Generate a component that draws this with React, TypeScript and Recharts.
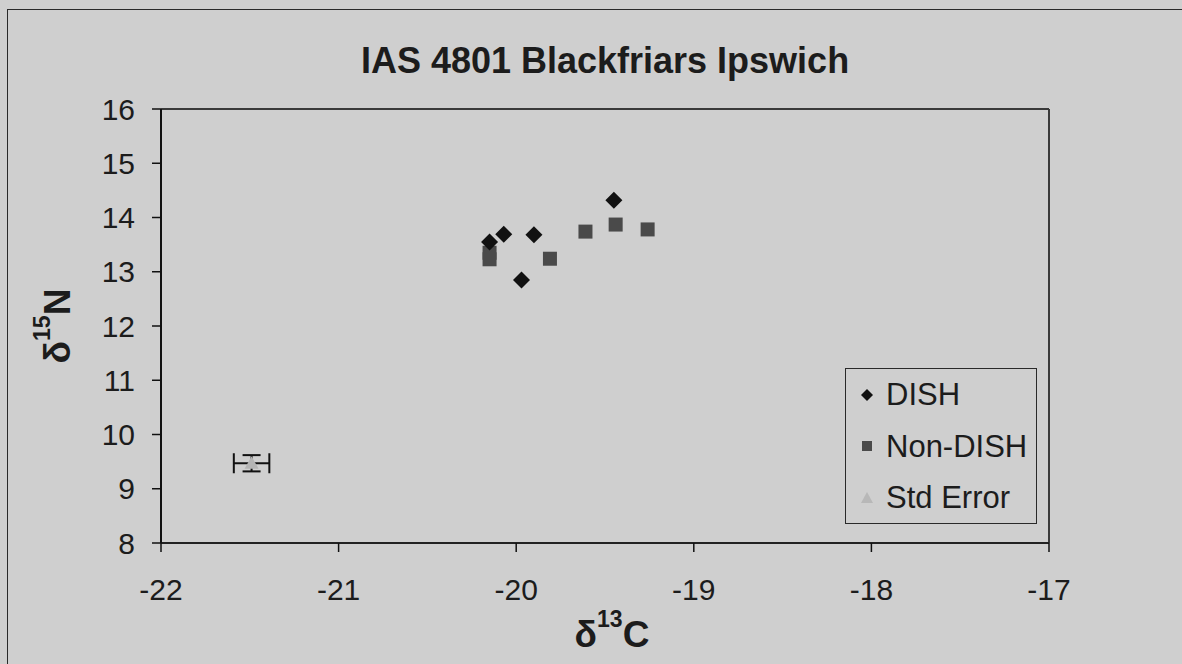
import React from 'react';
import { ScatterChart, Scatter, XAxis, YAxis, ErrorBar, ReferenceLine, Legend } from 'recharts';

// values
const dishX = [-20.15, -20.07, -19.9, -19.97, -19.45];
const dishY = [13.55, 13.69, 13.68, 12.85, 14.32];
const nonDishX = [-20.15, -20.15, -19.81, -19.61, -19.44, -19.26];
const nonDishY = [13.35, 13.23, 13.24, 13.74, 13.87, 13.78];
const stdErrX = [-21.49];
const stdErrY = [9.47];
const stdErrEx = [0.1];
const stdErrEy = [0.15];

const xTicks = [-22, -21, -20, -19, -18, -17];
const yTicks = [8, 9, 10, 11, 12, 13, 14, 15, 16];
const seriesNames = ['DISH', 'Non-DISH', 'Std Error'];

const FONT = '"Liberation Sans", Arial, sans-serif';
const BG = '#cfcfcf';
const INK = '#1c1c1c';

const dish = dishX.map((x, i) => ({ x, y: dishY[i] }));
const nonDish = nonDishX.map((x, i) => ({ x, y: nonDishY[i] }));
const stdErr = stdErrX.map((x, i) => ({ x, y: stdErrY[i], ex: stdErrEx[i], ey: stdErrEy[i] }));

const Diamond = (props: any) => {
  const { cx, cy } = props;
  const r = 8.5;
  return <path d={`M${cx},${cy - r}L${cx + r},${cy}L${cx},${cy + r}L${cx - r},${cy}Z`} fill="#111" />;
};

const Square = (props: any) => {
  const { cx, cy } = props;
  return <rect x={cx - 7} y={cy - 7} width={14} height={14} fill="#4a4a4a" />;
};

const Triangle = (props: any) => {
  const { cx, cy } = props;
  const r = 7;
  return <path d={`M${cx},${cy - r}L${cx + r},${cy + r * 0.8}L${cx - r},${cy + r * 0.8}Z`} fill="#b4b4b4" />;
};

const iconFor = (name: string) => {
  if (name === 'DISH') return <path d="M7,1L13,7L7,13L1,7Z" fill="#111" />;
  if (name === 'Non-DISH') return <rect x={2} y={2} width={10} height={10} fill="#4a4a4a" />;
  return <path d="M7,1L13,12L1,12Z" fill="#b8b8b8" />;
};

const LegendBox = () => (
  <div
    style={{
      boxSizing: 'border-box',
      width: 192,
      height: 156,
      border: '1.5px solid #2a2a2a',
      background: BG,
      fontFamily: FONT,
      fontSize: 31,
      color: INK,
    }}
  >
    {seriesNames.map((n) => (
      <div key={n} style={{ display: 'flex', alignItems: 'center', height: 51.5, lineHeight: '51.5px' }}>
        <svg width={14} height={14} style={{ marginLeft: 14, marginRight: 12 }}>
          {iconFor(n)}
        </svg>
        <span>{n}</span>
      </div>
    ))}
  </div>
);

const XTitle = (props: any) => {
  const { x, y, width } = props.viewBox;
  return (
    <text x={x + width / 2 + 7} y={y + 104} textAnchor="middle" fontFamily={FONT} fontWeight="bold" fontSize={37} fill={INK}>
      <tspan>δ</tspan>
      <tspan dy={-20} fontSize={23}>13</tspan>
      <tspan dy={20}>C</tspan>
    </text>
  );
};

const YTitle = (props: any) => {
  const { y, height } = props.viewBox;
  const cx = 70;
  const cy = y + height / 2;
  return (
    <text x={cx} y={cy} transform={`rotate(-90, ${cx}, ${cy})`} textAnchor="middle" fontFamily={FONT} fontWeight="bold" fontSize={37} fill={INK}>
      <tspan>δ</tspan>
      <tspan dy={-20} fontSize={23}>15</tspan>
      <tspan dy={20}>N</tspan>
    </text>
  );
};

const tickStyle = { fontSize: 30, fill: INK, fontFamily: FONT };

export default function App() {
  return (
    <div style={{ position: 'fixed', left: 0, top: 0, width: 1182, height: 664, background: BG, overflow: 'hidden' }}>
      <style>{`html, body { margin: 0; padding: 0; background: ${BG}; }`}</style>
      {/* outer frame of the chart object: only its left and top edges are on the page */}
      <div style={{ position: 'absolute', left: 7, top: 9, right: 0, bottom: 0, borderLeft: '1.5px solid #2a2a2a', borderTop: '1.5px solid #2a2a2a' }} />
      <div
        style={{
          position: 'absolute',
          left: 161,
          width: 888,
          top: 43,
          textAlign: 'center',
          fontFamily: FONT,
          fontWeight: 'bold',
          fontSize: 36,
          lineHeight: 1,
          color: INK,
        }}
      >
        IAS 4801 Blackfriars Ipswich
      </div>
      <div style={{ position: 'absolute', left: 0, top: 0 }}>
        <ScatterChart width={1182} height={664} margin={{ top: 109, right: 133, bottom: 61, left: 91 }}>
          <XAxis
            type="number"
            dataKey="x"
            domain={[-22, -17]}
            ticks={xTicks}
            interval={0}
            height={60}
            tick={tickStyle}
            tickSize={9}
            tickMargin={27}
            axisLine={{ stroke: '#222', strokeWidth: 2 }}
            tickLine={{ stroke: '#111', strokeWidth: 1.5 }}
            label={{ content: XTitle }}
          />
          <YAxis
            type="number"
            dataKey="y"
            domain={[8, 16]}
            ticks={yTicks}
            interval={0}
            width={70}
            tick={tickStyle}
            tickSize={9}
            tickMargin={17}
            axisLine={{ stroke: '#111', strokeWidth: 2 }}
            tickLine={{ stroke: '#111', strokeWidth: 1.5 }}
            label={{ content: YTitle }}
          />
          <ReferenceLine y={16} stroke="#3a3a3a" strokeWidth={2} />
          <ReferenceLine x={-17} stroke="#3a3a3a" strokeWidth={2} />
          <Scatter name="Std Error" data={stdErr} shape={Triangle} isAnimationActive={false}>
            <ErrorBar dataKey="ex" direction="x" width={10} stroke="#111" strokeWidth={2} />
            <ErrorBar dataKey="ey" direction="y" width={9} stroke="#111" strokeWidth={2} />
          </Scatter>
          <Scatter name="Non-DISH" data={nonDish} shape={Square} isAnimationActive={false} />
          <Scatter name="DISH" data={dish} shape={Diamond} isAnimationActive={false} />
          <Legend
            layout="vertical"
            align="center"
            verticalAlign="middle"
            content={<LegendBox />}
            wrapperStyle={{ left: 845, top: 368, width: 192, height: 156 }}
          />
        </ScatterChart>
      </div>
    </div>
  );
}
